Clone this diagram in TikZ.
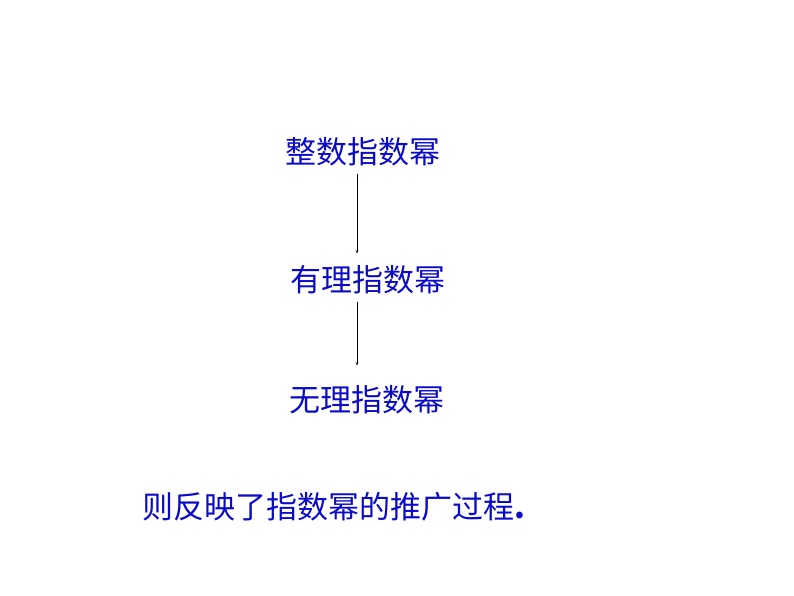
\documentclass[tikz,border=0pt]{standalone}
\usepackage{fontspec}
\newfontfamily\cjk{Noto Sans CJK SC}
\usetikzlibrary{arrows}
\definecolor{txtblue}{RGB}{10,10,200}

\begin{document}
\begin{tikzpicture}[x=1pt,y=1pt,
  word/.style={text=txtblue,font=\cjk\fontsize{31}{34}\selectfont,inner sep=0pt}]
\useasboundingbox (0,0) rectangle (794,596);

\node[word] (zs) at (363,444) {整数指数幂};
\node[word] (yl) at (368,316) {有理指数幂};
\node[word] (wl) at (367,196) {无理指数幂};
\node[word,anchor=west] (tg) at (142,89) {则反映了指数幂的推广过程\textbf{.}};

\coordinate (ax) at (357,0);

\draw[->,>=stealth,thin] (zs.south -| ax) ++(0,-7) -- ([yshift=12]yl.north -| ax);
\draw[->,>=stealth,thin] (yl.south -| ax) ++(0,-7) -- ([yshift=20]wl.north -| ax);
\end{tikzpicture}
\end{document}
